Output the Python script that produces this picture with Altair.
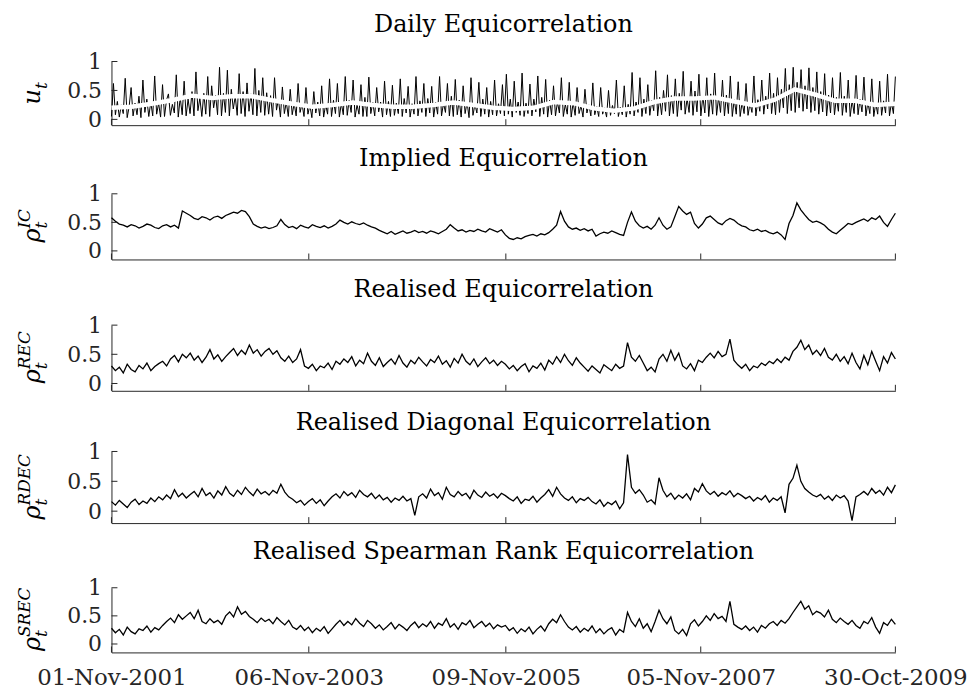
import altair as alt
import pandas as pd

START = "2001-11-01"
END = "2009-10-30"
tick_dates = ["2001-11-01", "2003-11-06", "2005-11-09", "2007-11-05", "2009-10-30"]
y_ticks = [0, 0.5, 1]

titles = ["Daily Equicorrelation", "Implied Equicorrelation", "Realised Equicorrelation",
          "Realised Diagonal Equicorrelation", "Realised Spearman Rank Equicorrelation"]
# y-axis labels: main symbol, subscript, superscript
y_main = ["u", "ρ", "ρ", "ρ", "ρ"]
y_sub = ["t", "t", "t", "t", "t"]
y_sup = ["", "IC", "REC", "RDEC", "SREC"]

daily_u = [
    0.05,0.62,0.08,0.31,0.04,0.25,0.10,0.71,0.03,0.22,0.55,0.06,0.28,0.08,0.40,0.03,0.68,0.12,0.35,0.05,
    0.30,0.06,0.75,0.09,0.28,0.04,0.60,0.05,0.33,0.44,0.07,0.26,0.11,0.77,0.04,0.38,0.08,0.66,0.06,0.35,
    0.10,0.48,0.06,0.82,0.15,0.37,0.05,0.45,0.09,0.74,0.05,0.58,0.20,0.42,0.08,0.90,0.06,0.45,0.12,0.85,
    0.06,0.52,0.18,0.40,0.07,0.79,0.10,0.48,0.05,0.63,0.14,0.44,0.08,0.88,0.06,0.50,0.12,0.72,0.07,0.46,
    0.09,0.41,0.05,0.72,0.16,0.35,0.04,0.56,0.10,0.30,0.05,0.52,0.08,0.28,0.06,0.62,0.12,0.27,0.05,0.55,
    0.09,0.25,0.03,0.48,0.11,0.30,0.06,0.58,0.04,0.26,0.09,0.70,0.05,0.33,0.10,0.62,0.04,0.28,0.08,0.74,
    0.07,0.33,0.12,0.68,0.04,0.25,0.09,0.60,0.05,0.38,0.05,0.73,0.10,0.29,0.06,0.55,0.13,0.30,0.04,0.66,
    0.08,0.31,0.05,0.59,0.07,0.28,0.10,0.70,0.05,0.36,0.11,0.57,0.04,0.27,0.09,0.74,0.06,0.32,0.12,0.62,
    0.05,0.36,0.11,0.57,0.04,0.30,0.09,0.74,0.06,0.28,0.12,0.62,0.06,0.40,0.05,0.69,0.08,0.33,0.04,0.58,
    0.10,0.30,0.03,0.72,0.07,0.26,0.11,0.64,0.05,0.35,0.09,0.55,0.04,0.31,0.08,0.68,0.06,0.27,0.10,0.60,
    0.06,0.78,0.09,0.35,0.04,0.66,0.12,0.30,0.07,0.80,0.05,0.28,0.10,0.61,0.06,0.35,0.13,0.75,0.05,0.38,
    0.09,0.69,0.04,0.33,0.08,0.58,0.06,0.30,0.11,0.72,0.05,0.26,0.09,0.64,0.04,0.29,0.07,0.55,0.10,0.24,
    0.04,0.52,0.11,0.25,0.06,0.63,0.08,0.22,0.05,0.55,0.09,0.20,0.04,0.50,0.07,0.24,0.10,0.68,0.05,0.21,
    0.08,0.58,0.04,0.26,0.09,0.81,0.06,0.30,0.12,0.72,0.05,0.35,0.10,0.60,0.07,0.33,0.15,0.84,0.06,0.38,
    0.08,0.50,0.14,0.77,0.06,0.41,0.10,0.70,0.05,0.45,0.16,0.83,0.09,0.36,0.12,0.66,0.07,0.49,0.13,0.78,
    0.06,0.40,0.11,0.72,0.05,0.44,0.09,0.80,0.07,0.38,0.12,0.68,0.06,0.42,0.10,0.75,0.05,0.35,0.09,0.65,
    0.05,0.30,0.10,0.62,0.07,0.28,0.12,0.75,0.06,0.34,0.14,0.68,0.09,0.40,0.18,0.80,0.10,0.45,0.08,0.72,
    0.12,0.52,0.20,0.88,0.10,0.60,0.15,0.90,0.12,0.64,0.20,0.86,0.14,0.58,0.18,0.89,0.12,0.55,0.15,0.82,
    0.09,0.48,0.13,0.79,0.06,0.42,0.11,0.72,0.08,0.38,0.14,0.81,0.07,0.40,0.12,0.68,0.05,0.33,0.10,0.76,
    0.08,0.35,0.13,0.73,0.06,0.30,0.10,0.70,0.05,0.28,0.09,0.66,0.07,0.32,0.11,0.78,0.06,0.29,0.10,0.74,
]

smooth_u = [
    0.20,0.22,0.27,0.33,0.41,0.37,0.40,0.40,0.33,0.27,
    0.22,0.25,0.29,0.25,0.22,0.22,0.25,0.29,0.25,0.20,
    0.18,0.20,0.30,0.28,0.19,0.15,0.19,0.30,0.36,0.36,
    0.38,0.31,0.24,0.34,0.52,0.43,0.32,0.32,0.25,0.27,
]

implied = [
    0.58,0.52,0.47,0.45,0.42,0.46,0.44,0.40,0.43,0.47,0.45,0.41,0.39,0.44,0.46,0.42,0.45,0.40,0.70,0.66,
    0.62,0.57,0.55,0.60,0.58,0.54,0.59,0.61,0.57,0.62,0.65,0.68,0.66,0.71,0.69,0.60,0.47,0.43,0.40,0.42,
    0.39,0.41,0.44,0.55,0.46,0.41,0.43,0.39,0.45,0.42,0.40,0.46,0.43,0.41,0.44,0.40,0.43,0.47,0.54,0.50,
    0.47,0.51,0.48,0.46,0.49,0.45,0.42,0.40,0.36,0.33,0.30,0.34,0.29,0.32,0.35,0.31,0.33,0.36,0.32,0.34,
    0.31,0.35,0.33,0.30,0.34,0.38,0.46,0.40,0.35,0.37,0.33,0.36,0.34,0.38,0.35,0.33,0.39,0.36,0.33,0.37,
    0.28,0.22,0.20,0.23,0.21,0.25,0.27,0.29,0.26,0.30,0.28,0.32,0.38,0.45,0.69,0.52,0.42,0.38,0.40,0.36,
    0.39,0.35,0.38,0.26,0.30,0.33,0.31,0.35,0.32,0.29,0.27,0.50,0.68,0.52,0.44,0.40,0.43,0.38,0.45,0.58,
    0.45,0.38,0.42,0.60,0.78,0.70,0.64,0.68,0.48,0.40,0.47,0.58,0.61,0.55,0.49,0.46,0.53,0.57,0.54,0.48,
    0.44,0.42,0.37,0.35,0.38,0.34,0.36,0.32,0.30,0.33,0.28,0.20,0.48,0.62,0.84,0.72,0.63,0.55,0.50,0.52,
    0.49,0.45,0.38,0.33,0.30,0.36,0.42,0.48,0.46,0.50,0.53,0.56,0.52,0.58,0.55,0.61,0.50,0.43,0.55,0.66,
]

realised = [
    0.30,0.22,0.28,0.18,0.33,0.24,0.20,0.31,0.25,0.35,0.22,0.29,0.34,0.38,0.30,0.42,0.48,0.37,0.50,0.44,
    0.52,0.40,0.47,0.36,0.45,0.58,0.42,0.49,0.38,0.46,0.53,0.60,0.48,0.57,0.50,0.66,0.52,0.58,0.47,0.55,
    0.60,0.50,0.56,0.44,0.38,0.47,0.36,0.42,0.58,0.30,0.26,0.33,0.22,0.30,0.27,0.35,0.24,0.38,0.33,0.42,
    0.36,0.46,0.30,0.40,0.34,0.52,0.38,0.31,0.44,0.29,0.36,0.42,0.33,0.48,0.35,0.28,0.40,0.34,0.45,0.37,
    0.30,0.41,0.36,0.47,0.33,0.39,0.28,0.43,0.35,0.50,0.38,0.32,0.42,0.29,0.37,0.44,0.34,0.40,0.31,0.38,
    0.33,0.25,0.31,0.22,0.29,0.34,0.20,0.30,0.26,0.35,0.23,0.40,0.33,0.46,0.36,0.50,0.39,0.31,0.44,0.35,
    0.28,0.21,0.30,0.24,0.18,0.32,0.27,0.22,0.33,0.26,0.30,0.70,0.45,0.38,0.48,0.35,0.22,0.28,0.20,0.42,
    0.50,0.38,0.57,0.40,0.52,0.30,0.25,0.34,0.22,0.40,0.36,0.45,0.52,0.44,0.55,0.46,0.50,0.76,0.40,0.32,
    0.26,0.33,0.22,0.30,0.27,0.35,0.31,0.38,0.34,0.42,0.36,0.45,0.40,0.55,0.62,0.74,0.58,0.66,0.50,0.57,
    0.48,0.60,0.45,0.40,0.50,0.38,0.46,0.34,0.52,0.36,0.25,0.48,0.32,0.55,0.38,0.22,0.46,0.35,0.53,0.42,
]

diagonal = [
    0.16,0.10,0.18,0.12,0.06,0.15,0.20,0.11,0.17,0.13,0.22,0.16,0.24,0.19,0.27,0.21,0.36,0.24,0.30,0.22,
    0.28,0.33,0.24,0.38,0.26,0.31,0.22,0.34,0.27,0.41,0.30,0.25,0.35,0.28,0.40,0.32,0.26,0.37,0.29,0.33,
    0.27,0.35,0.30,0.45,0.32,0.24,0.20,0.14,0.18,0.10,0.16,0.21,0.13,0.19,0.09,0.17,0.24,0.29,0.22,0.33,
    0.26,0.31,0.23,0.35,0.28,0.24,0.30,0.21,0.27,0.19,0.23,0.15,0.22,0.18,0.25,0.17,0.21,-0.07,0.24,0.29,
    0.22,0.37,0.26,0.31,0.20,0.40,0.28,0.24,0.33,0.26,0.30,0.21,0.35,0.27,0.23,0.32,0.25,0.29,0.22,0.30,
    0.26,0.21,0.17,0.24,0.13,0.20,0.18,0.25,0.15,0.22,0.28,0.36,0.25,0.40,0.29,0.22,0.18,0.24,0.14,0.21,
    0.18,0.23,0.16,0.12,0.19,0.08,0.15,0.11,0.17,0.04,0.14,0.95,0.40,0.30,0.36,0.27,0.15,0.19,0.12,0.56,
    0.35,0.24,0.30,0.20,0.27,0.22,0.29,0.19,0.38,0.32,0.46,0.34,0.28,0.33,0.25,0.31,0.27,0.34,0.24,0.30,
    0.26,0.21,0.25,0.17,0.23,0.19,0.26,0.15,0.22,0.18,0.24,-0.03,0.45,0.55,0.77,0.50,0.38,0.32,0.27,0.24,
    0.28,0.20,0.25,0.18,0.27,0.22,0.26,0.17,-0.16,0.24,0.28,0.33,0.27,0.38,0.30,0.35,0.27,0.40,0.31,0.44,
]

spearman = [
    0.28,0.20,0.26,0.16,0.30,0.22,0.18,0.27,0.24,0.32,0.21,0.29,0.25,0.33,0.40,0.46,0.38,0.52,0.44,0.50,
    0.56,0.45,0.60,0.40,0.36,0.45,0.38,0.42,0.35,0.50,0.57,0.48,0.66,0.53,0.58,0.49,0.44,0.38,0.46,0.40,
    0.44,0.36,0.47,0.40,0.34,0.42,0.30,0.26,0.33,0.24,0.30,0.20,0.28,0.23,0.31,0.19,0.27,0.35,0.42,0.33,
    0.40,0.34,0.45,0.37,0.31,0.42,0.36,0.28,0.34,0.25,0.31,0.38,0.27,0.35,0.30,0.24,0.33,0.39,0.29,0.36,
    0.31,0.40,0.28,0.37,0.33,0.45,0.30,0.36,0.26,0.38,0.34,0.42,0.29,0.35,0.40,0.31,0.37,0.27,0.34,0.30,
    0.33,0.24,0.29,0.19,0.27,0.22,0.30,0.18,0.26,0.32,0.23,0.36,0.44,0.38,0.52,0.40,0.30,0.25,0.31,0.21,
    0.28,0.23,0.32,0.20,0.27,0.18,0.25,0.29,0.16,0.26,0.21,0.56,0.40,0.31,0.45,0.28,0.36,0.22,0.40,0.60,
    0.45,0.36,0.48,0.24,0.18,0.26,0.15,0.36,0.43,0.32,0.40,0.50,0.42,0.54,0.45,0.49,0.40,0.76,0.35,0.30,
    0.26,0.32,0.24,0.30,0.21,0.33,0.28,0.36,0.40,0.33,0.42,0.37,0.45,0.56,0.66,0.76,0.62,0.68,0.52,0.58,
    0.55,0.48,0.60,0.44,0.38,0.46,0.40,0.35,0.42,0.33,0.28,0.40,0.36,0.47,0.30,0.19,0.38,0.33,0.44,0.35,
]

y_mins = [-0.10, -0.15, -0.125, -0.20, -0.15]
heights = [64, 66, 66, 72, 65]

FONT = "DejaVu Serif"
AX = "#262626"
W = 788
TICK = 6
MAIN_FS = 24
SCRIPT_FS = 17
# approximate glyph advance (em) used to centre the composite y label
CHAR_EM = {"u": 0.64, "ρ": 0.64, "t": 0.40, "I": 0.40, "C": 0.73, "R": 0.77, "E": 0.73, "D": 0.83, "S": 0.68}


def text_len(s, fs):
    return sum(CHAR_EM.get(c, 0.65) for c in s) * fs


def dt(s):
    t = pd.Timestamp(s)
    return alt.DateTime(year=t.year, month=t.month, date=t.day)


def series_df(vals):
    return pd.DataFrame({"date": pd.date_range(START, END, periods=len(vals)), "v": vals})


def ylabel_layers(k, h):
    lm = text_len(y_main[k], MAIN_FS)
    ls = max(text_len(y_sub[k], SCRIPT_FS), text_len(y_sup[k], SCRIPT_FS))
    j = h / 2 + (ls - lm) / 2
    out = []
    specs = [(y_main[k], MAIN_FS, -72, "right"), (y_sub[k], SCRIPT_FS, -65, "left"),
             (y_sup[k], SCRIPT_FS, -82, "left")]
    for txt, fs, xb, al in specs:
        if not txt:
            continue
        out.append(
            alt.Chart(pd.DataFrame({"lab": [txt]})).mark_text(
                angle=270, align=al, baseline="alphabetic", font=FONT, fontStyle="italic",
                fontSize=fs, color="black"
            ).encode(text="lab:N", x=alt.value(xb), y=alt.value(j))
        )
    return out


def panel(k, vals, extra=None):
    h = heights[k]
    bottom = k == 4
    xs = alt.Scale(domain=[dt(START), dt(END)])
    ys = alt.Scale(domain=[y_mins[k], 1], nice=False, zero=False)
    if bottom:
        xaxis = alt.Axis(values=[dt(d) for d in tick_dates], format="%d-%b-%Y", title=None,
                         labelFont=FONT, labelFontSize=23, labelColor=AX, labelPadding=14,
                         labelFlush=False, labelOverlap=False, labelBound=False,
                         ticks=False, tickSize=0, grid=False, domainColor=AX, domainWidth=1)
    else:
        xaxis = alt.Axis(labels=False, ticks=False, tickSize=0, title=None, grid=False,
                         domainColor=AX, domainWidth=1)
    yaxis = alt.Axis(values=y_ticks, format="~g", title=None, labelFont=FONT, labelFontSize=22,
                     labelColor=AX, labelPadding=10, ticks=False, tickSize=0, grid=False,
                     domainColor=AX, domainWidth=1)
    X = alt.X("date:T", scale=xs, axis=xaxis)
    Y = alt.Y("v:Q", scale=ys, axis=yaxis)
    lw = 1.0 if extra is not None else 1.3
    layers = [alt.Chart(series_df(vals)).mark_line(color="black", strokeWidth=lw).encode(x=X, y=Y)]
    if extra is not None:
        layers.append(alt.Chart(series_df(extra)).mark_line(color="white", strokeWidth=4.5).encode(x=X, y=Y))
    layers.append(
        alt.Chart(pd.DataFrame({"v": y_ticks})).mark_rule(color=AX, strokeWidth=1).encode(
            y=Y, x=alt.value(0), x2=alt.value(TICK)))
    layers.append(
        alt.Chart(pd.DataFrame({"date": pd.to_datetime(tick_dates)})).mark_rule(color=AX, strokeWidth=1).encode(
            x=X, y=alt.value(h), y2=alt.value(h - TICK)))
    layers += ylabel_layers(k, h)
    return alt.layer(*layers).properties(
        width=W, height=h,
        title=alt.TitleParams(text=titles[k], font=FONT, fontSize=24, fontWeight="normal",
                              color="black", offset=59 - h, baseline="alphabetic", anchor="middle"),
    )


panels = [
    panel(0, daily_u, smooth_u),
    panel(1, implied),
    panel(2, realised),
    panel(3, diagonal),
    panel(4, spearman),
]

chart = alt.vconcat(*panels, spacing=16).resolve_scale(x="independent", y="independent").properties(
    padding={"left": 8, "top": 3, "right": 0, "bottom": 0}, background="white"
).configure_view(stroke=None)

chart.save("out.html", embed_options={"renderer": "svg", "actions": False})
